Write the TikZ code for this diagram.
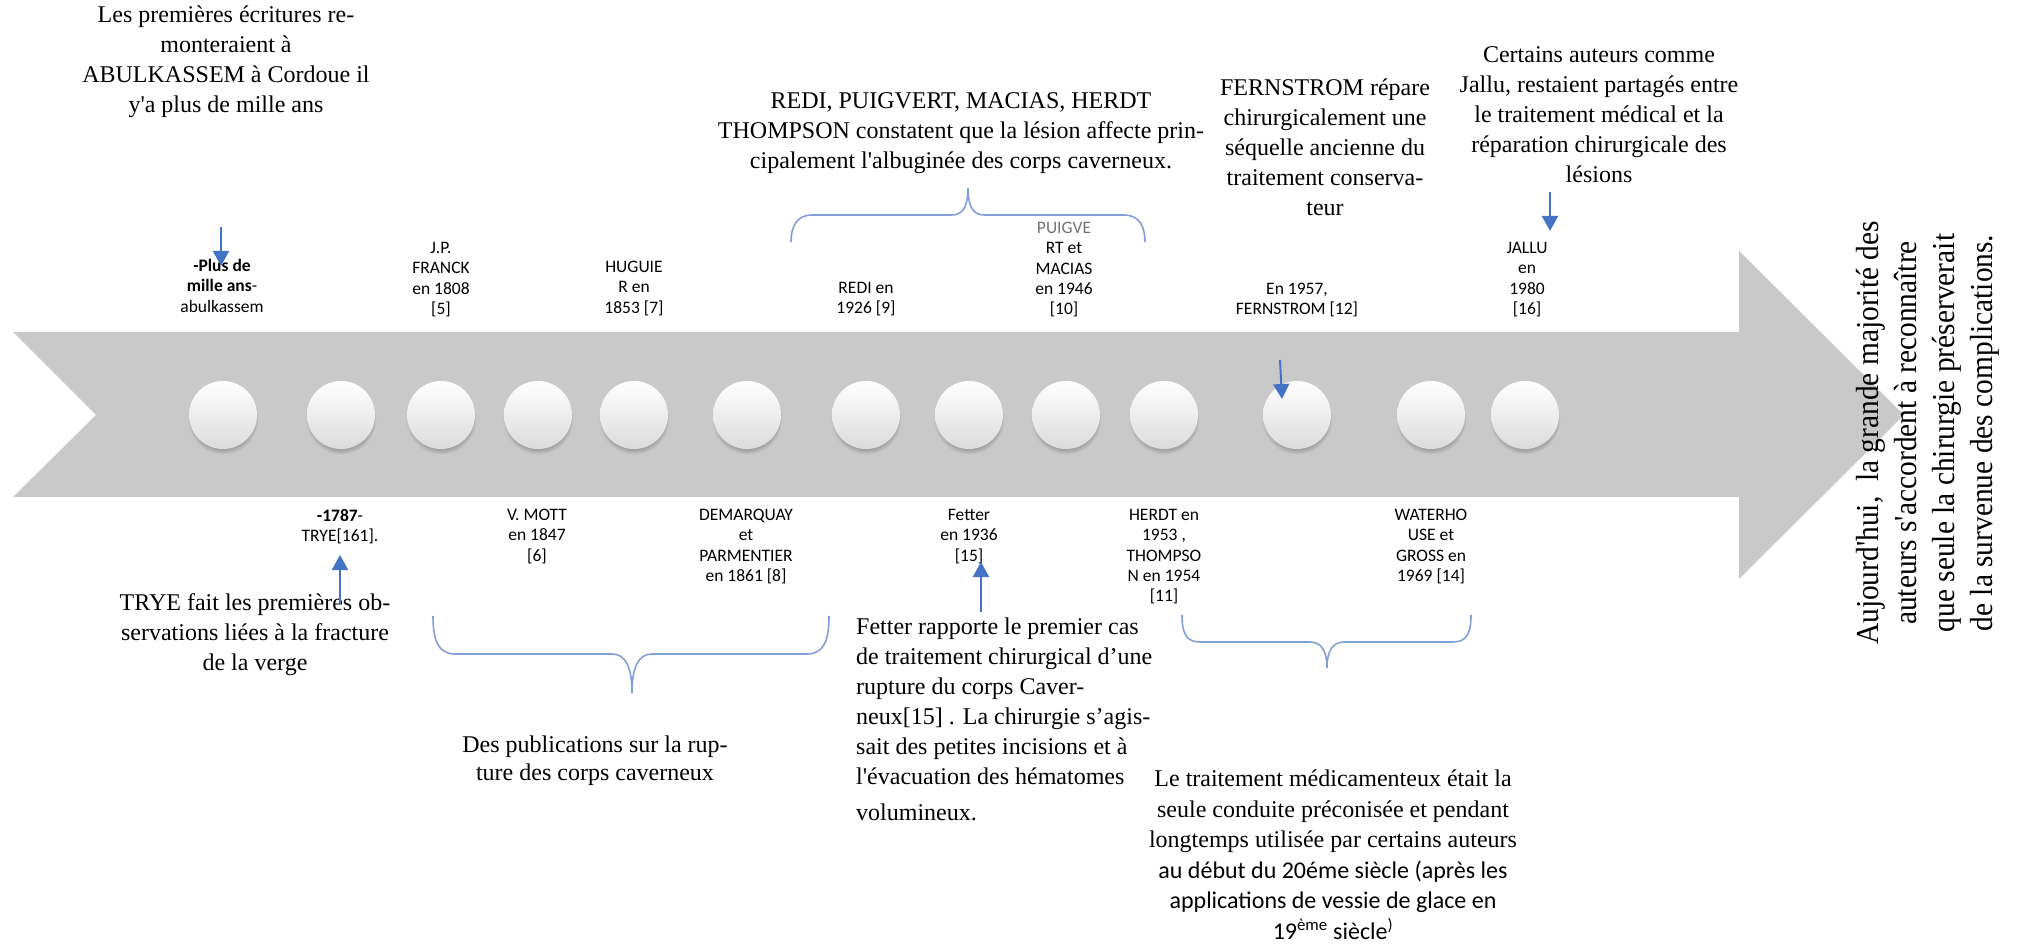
\documentclass[tikz,border=0pt]{standalone}
\usepackage{fontspec}
\setmainfont{Liberation Serif}[Ligatures=TeXOff]
\newfontfamily\calib{Carlito}[Ligatures=TeXOff]
\newfontfamily\condserif{Liberation Serif}[FakeStretch=0.92,Ligatures=TeXOff]
\usetikzlibrary{arrows.meta,shadows,fadings}
\definecolor{bandgray}{RGB}{201,201,201}
\definecolor{arrowblue}{RGB}{68,114,196}
\definecolor{braceblue}{RGB}{130,160,215}
\tikzset{
  tnote/.style={font=\rmfamily\fontsize{24}{30}\selectfont, align=center, inner sep=0pt, anchor=north, execute at begin node=\strut},
  lab/.style={font=\calib\fontsize{17.5}{20.3}\selectfont, align=center, inner sep=0pt, anchor=north, execute at begin node=\strut},
  dot/.style={circle, minimum size=68pt, inner sep=0pt, top color=white, middle color=white, bottom color=black!14,
    circular drop shadow={shadow xshift=0pt, shadow yshift=-4pt, shadow scale=1.04, opacity=0.55}},
  bluearrow/.style={draw=arrowblue, line width=2pt, -{Triangle[width=16pt,length=15pt]}},
  bracestyle/.style={draw=braceblue, line width=1.6pt},
}
\begin{document}
\begin{tikzpicture}[x=1pt,y=-1pt]
\fill[white] (0,0) rectangle (2018,949);
\useasboundingbox (0,0) rectangle (2018,949);

% band arrow
\fill[bandgray] (13,332) -- (1739,332) -- (1739,251) -- (1904,415) -- (1739,579) -- (1739,497) -- (13,497) -- (96,415) -- cycle;

% circles
\foreach \i/\x in {1/223,2/341,3/441,4/538,5/634,6/747,7/866,8/969,9/1066,10/1164,11/1297,12/1431,13/1525}
  \node[dot] (c\i) at (\x,415) {};

% upper labels
\node[lab] (l1) at (222,259) {\textbf{-Plus de}\\\textbf{mille ans}-\\abulkassem};
\node[lab] (l2) at (441,242) {J.P.\\FRANCK\\en 1808\\{}[5]};
\node[lab] (l4) at (634,261) {HUGUIE\\R en\\1853 [7]};
\node[lab] (l6) at (866,282) {REDI en\\1926 [9]};
\node[lab] (l9) at (1064,222) {{\color{black!55}PUIGVE}\\RT et\\MACIAS\\en 1946\\{}[10]};
\node[lab] (l11) at (1297,283) {En 1957,\\FERNSTROM [12]};
\node[lab] (l13) at (1527,242) {JALLU\\en\\1980\\{}[16]};

% lower labels
\node[lab] (b2) at (340,509) {\textbf{-1787}-\\TRYE[161].};
\node[lab] (b4) at (537,509) {V. MOTT\\en 1847\\{}[6]};
\node[lab] (b6) at (746,509) {DEMARQUAY\\et\\PARMENTIER\\en 1861 [8]};
\node[lab] (b8) at (969,509) {Fetter\\en 1936\\{}[15]};
\node[lab] (b10) at (1164,509) {HERDT en\\1953 ,\\THOMPSO\\N en 1954\\{}[11]};
\node[lab] (b12) at (1431,509) {WATERHO\\USE et\\GROSS en\\1969 [14]};

% top notes
\node[tnote] (n1) at (226,6) {Les premières écritures re-\\monteraient à\\ABULKASSEM à Cordoue il\\y'a plus de mille ans};
\node[tnote] (n2) at (961,92) {REDI, PUIGVERT, MACIAS, HERDT\\THOMPSON constatent que la lésion affecte prin-\\cipalement l'albuginée des corps caverneux.};
\node[tnote] (n3) at (1325,79) {FERNSTROM répare\\chirurgicalement une\\séquelle ancienne du\\traitement conserva-\\teur};
\node[tnote] (n4) at (1599,46) {Certains auteurs comme\\Jallu, restaient partagés entre\\le traitement médical et la\\réparation chirurgicale des\\lésions};

% bottom notes
\node[tnote] (n5) at (255,593) {TRYE fait les premières ob-\\servations liées à la fracture\\de la verge};
\node[tnote, font=\rmfamily\fontsize{24}{28}\selectfont] (n6) at (595,736) {Des publications sur la rup-\\ture des corps caverneux};
\node[tnote, anchor=north west, align=left] (n7) at (856,618) {Fetter rapporte le premier cas\\de traitement chirurgical d’une\\rupture du corps Caver-\\neux[15] . La chirurgie s’agis-\\sait des petites incisions et à\\l'évacuation des hématomes\\[6pt]volumineux.};
\node[tnote, font=\rmfamily\fontsize{24}{30.5}\selectfont] (n8) at (1333,770) {{\rmfamily Le traitement médicamenteux était la}\\{\rmfamily seule conduite préconisée et pendant}\\{\rmfamily longtemps utilisée par certains auteurs}\\{\calib au début du 20éme siècle (après les}\\{\calib applications de vessie de glace en}\\{\calib 19\textsuperscript{ème} siècle\textsuperscript{)}}};

% rotated final note
\node[font=\condserif\fontsize{32}{38}\selectfont, align=center, inner sep=0pt, rotate=90, execute at begin node=\strut] (n9) at (1930,433)
  {Aujourd'hui,\ \ la grande majorité des\\auteurs s'accordent à reconnaître\\que seule la chirurgie préserverait\\de la survenue des complications.};

% braces
\draw[bracestyle] (791,242) .. controls (791,226) and (797,215) .. (812,215) -- (952,215)
  .. controls (963,215) and (968,206) .. (968,188) .. controls (968,206) and (973,215) .. (984,215)
  -- (1124,215) .. controls (1139,215) and (1145,226) .. (1145,242);
\draw[bracestyle] (433,616) .. controls (433,640) and (438,654) .. (455,654) -- (612,654)
  .. controls (626,654) and (632,668) .. (632,693) .. controls (632,668) and (638,654) .. (652,654)
  -- (807,654) .. controls (824,654) and (829,640) .. (829,616);
\draw[bracestyle] (1182,615) .. controls (1182,633) and (1186,642) .. (1200,642) -- (1310,642)
  .. controls (1322,642) and (1327,652) .. (1327,668) .. controls (1327,652) and (1332,642) .. (1344,642)
  -- (1453,642) .. controls (1467,642) and (1471,633) .. (1471,615);

% blue arrows
\coordinate (a1s) at (221,227); \coordinate (a1e) at (221,266);
\coordinate (a2s) at (340,604); \coordinate (a2e) at (340,555);
\coordinate (a3s) at (981,612); \coordinate (a3e) at (981,562);
\coordinate (a4s) at (1280,360); \coordinate (a4e) at (1282,399);
\coordinate (a5s) at (1550,192); \coordinate (a5e) at (1550,231);
\draw[bluearrow] (a1s) -- (a1e);
\draw[bluearrow] (a2s) -- (a2e);
\draw[bluearrow] (a3s) -- (a3e);
\draw[bluearrow] (a4s) -- (a4e);
\draw[bluearrow] (a5s) -- (a5e);
\end{tikzpicture}
\end{document}
